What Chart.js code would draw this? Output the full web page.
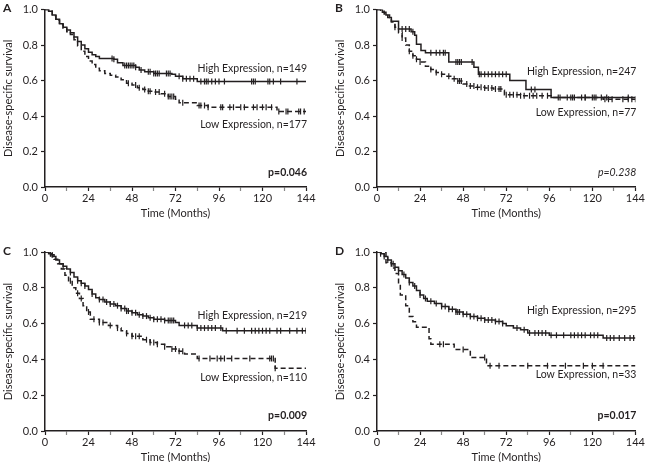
<!DOCTYPE html>
<html>
<head>
<meta charset="utf-8">
<script src="https://cdn.jsdelivr.net/npm/chart.js@4.4.1/dist/chart.umd.min.js"></script>
<style>
  body { margin: 0; background: #fff; }
  #wrap { position: relative; width: 646px; height: 462px; overflow: hidden; }
  .panel { position: absolute; width: 323px; height: 231px; }
</style>
</head>
<body>
<div id="wrap">
  <div class="panel" style="left:0;top:0"><canvas id="cA" width="323" height="231"></canvas></div>
  <div class="panel" style="left:323px;top:0"><canvas id="cB" width="323" height="231"></canvas></div>
  <div class="panel" style="left:0;top:231px"><canvas id="cC" width="323" height="231"></canvas></div>
  <div class="panel" style="left:323px;top:231px"><canvas id="cD" width="323" height="231"></canvas></div>
</div>
<script>
// tick labels
const xTicks = [0, 24, 48, 72, 96, 120, 144]
const yTicks = [0, 0.2, 0.4, 0.6, 0.8, 1.0]

// --- panel A ---
const hiTimeA = [0, 2, 4, 6, 8, 10, 12, 14, 16, 18, 20, 22, 24, 26, 28, 30, 38, 40, 43, 50, 52, 55, 60, 70, 72, 76, 84, 144]
const hiSurvA = [1, 0.99, 0.97, 0.945, 0.92, 0.9, 0.885, 0.87, 0.845, 0.82, 0.8, 0.78, 0.76, 0.745, 0.735, 0.725, 0.72, 0.70, 0.685, 0.675, 0.66, 0.65, 0.64, 0.635, 0.625, 0.61, 0.595, 0.595]
const hiCensA = [37, 38, 44, 45, 46, 47, 48, 49, 50, 53, 57, 58, 60, 61, 62, 63, 67, 68, 69, 74, 76, 78, 80, 82, 86, 88, 89, 90, 92, 94, 96, 99, 114, 115, 116, 123, 124, 126, 130, 139]
const loTimeA = [0, 2, 4, 6, 8, 10, 12, 14, 16, 18, 20, 22, 24, 26, 28, 30, 33, 36, 39, 42, 45, 48, 51, 54, 57, 60, 64, 68, 72, 74, 84, 90, 128, 144]
const loSurvA = [1, 0.99, 0.965, 0.94, 0.915, 0.895, 0.875, 0.86, 0.83, 0.795, 0.765, 0.735, 0.71, 0.69, 0.67, 0.655, 0.64, 0.63, 0.62, 0.605, 0.585, 0.575, 0.56, 0.55, 0.54, 0.535, 0.525, 0.51, 0.495, 0.475, 0.46, 0.45, 0.425, 0.425]
const loCensA = [46, 50, 52, 55, 57, 58, 61, 63, 66, 68, 69, 70, 71, 76, 85, 86, 88, 90, 97, 98, 102, 104, 108, 110, 115, 117, 120, 122, 125, 129, 133, 134, 140, 141, 143]

// --- panel B ---
const hiTimeB = [0, 3, 5, 7, 8, 12, 19, 21, 22, 24.5, 27, 40, 54, 56.5, 74, 83, 97, 144]
const hiSurvB = [1, 0.985, 0.97, 0.955, 0.935, 0.89, 0.875, 0.855, 0.805, 0.77, 0.757, 0.705, 0.675, 0.635, 0.60, 0.55, 0.505, 0.505]
const hiCensB = [14, 16, 18, 20, 30, 33, 35, 37, 38, 44, 45, 46, 47, 53, 57, 58, 60, 62, 64, 66, 68, 70, 72, 86, 88, 101, 109, 116, 121, 128, 140]
const loTimeB = [0, 2, 4, 6, 8, 10, 12, 14, 16, 18, 20, 22, 24, 27, 30, 33, 36, 39, 42, 45, 48, 51, 55, 60, 65, 70, 71, 80, 97, 126, 144]
const loSurvB = [1, 0.99, 0.975, 0.955, 0.93, 0.9, 0.87, 0.84, 0.8, 0.765, 0.74, 0.72, 0.705, 0.68, 0.662, 0.645, 0.635, 0.625, 0.61, 0.597, 0.58, 0.57, 0.562, 0.558, 0.552, 0.545, 0.52, 0.515, 0.505, 0.495, 0.495]
const loCensB = [10, 14, 18, 20, 22, 24, 30, 33, 36, 40, 43, 45, 46, 47, 50, 52, 54, 56, 58, 60, 62, 64, 66, 68, 69, 72, 74, 76, 78, 80, 82, 85, 87, 89, 92, 95, 102, 106, 108, 110, 114, 116, 120, 122, 125, 127, 129, 131, 137, 140, 142, 144]

// --- panel C ---
const hiTimeC = [0, 2, 4, 6, 8, 10, 12, 14, 16, 18, 20, 22, 24, 26, 28, 30, 33, 36, 39, 42, 45, 48, 51, 54, 57, 60, 66, 72, 74, 84, 98, 144]
const hiSurvC = [1, 0.99, 0.975, 0.955, 0.935, 0.92, 0.905, 0.885, 0.86, 0.84, 0.825, 0.81, 0.79, 0.765, 0.745, 0.735, 0.72, 0.71, 0.70, 0.685, 0.67, 0.66, 0.65, 0.642, 0.632, 0.625, 0.618, 0.606, 0.59, 0.575, 0.56, 0.56]
const hiCensC = [3, 10, 14, 18, 20, 22, 26, 30, 32, 34, 36, 38, 40, 42, 44, 45, 46, 48, 50, 52, 54, 56, 58, 60, 62, 64, 66, 68, 69, 70, 71, 77, 79, 81, 84, 86, 88, 90, 92, 94, 97, 100, 106, 110, 114, 116, 118, 120, 122, 124, 128, 130, 135, 139, 142, 144]
const loTimeC = [0, 3, 5, 7, 9, 11, 13, 15, 17, 19, 21, 23, 25, 30, 35, 40, 42, 45, 48, 54, 58, 62, 66, 70, 74, 77, 84, 127, 144]
const loSurvC = [1, 0.985, 0.96, 0.935, 0.905, 0.87, 0.84, 0.80, 0.77, 0.74, 0.70, 0.665, 0.625, 0.606, 0.59, 0.575, 0.56, 0.545, 0.53, 0.51, 0.495, 0.485, 0.47, 0.458, 0.445, 0.43, 0.405, 0.35, 0.35]
const loCensC = [4, 14, 18, 20, 24, 27, 30, 32, 36, 40, 45, 48, 50, 52, 56, 58, 60, 62, 66, 70, 72, 74, 76, 85, 91, 95, 97, 99, 103, 113, 124, 125, 126, 127]

// --- panel D ---
const hiTimeD = [0, 2, 4, 6, 8, 10, 12, 14, 16, 18, 20, 22, 24, 26, 28, 32, 36, 40, 44, 48, 52, 56, 60, 66, 70, 72, 76, 80, 84, 96, 126, 144]
const hiSurvD = [1, 0.99, 0.975, 0.955, 0.935, 0.915, 0.895, 0.875, 0.855, 0.83, 0.81, 0.785, 0.76, 0.74, 0.725, 0.712, 0.695, 0.68, 0.665, 0.652, 0.64, 0.63, 0.62, 0.612, 0.60, 0.588, 0.575, 0.565, 0.548, 0.535, 0.52, 0.52]
const hiCensD = [2, 4, 6, 9, 12, 15, 18, 21, 24, 27, 30, 33, 36, 38, 40, 42, 44, 45, 46, 48, 50, 52, 54, 56, 58, 60, 62, 64, 66, 68, 70, 78, 82, 85, 88, 90, 92, 94, 97, 100, 104, 108, 110, 112, 114, 116, 119, 121, 123, 128, 130, 132, 135, 138, 141, 143]
const loTimeD = [0, 5, 8, 10, 12, 13, 16, 18, 20, 22, 29, 30, 43, 52, 61, 144]
const loSurvD = [1, 0.94, 0.91, 0.88, 0.82, 0.76, 0.70, 0.64, 0.61, 0.58, 0.515, 0.485, 0.455, 0.41, 0.365, 0.365]
const loCensD = [35, 37, 48, 60, 63, 68, 84, 95, 105, 115, 120, 126]

const FONT = 'Lato, "Open Sans", sans-serif'
const INK = '#231f20'

const survAt = (times, surv, t) => {
    let s = surv[0]
    for (let i = 0; i < times.length; i++) {
        if (times[i] <= t) s = surv[i]
    }
    return s
}

const curve = (times, surv, dashed) => ({
    data: times.map((t, i) => ({ x: t, y: surv[i] })),
    stepped: true,
    borderColor: INK,
    borderWidth: 1.5,
    borderDash: dashed ? [5, 3] : [],
    pointRadius: 0,
    fill: false
})

const censors = (times, surv, cens) => ({
    data: cens.map(t => ({ x: t, y: survAt(times, surv, t) })),
    showLine: false,
    pointStyle: 'line',
    rotation: 90,
    pointRadius: 3,
    pointBorderWidth: 1.2,
    pointBorderColor: INK,
    borderColor: INK
})

// text on top of each panel
const notes = {
    id: 'notes',
    afterDraw(chart) {
        const o = chart.options.plugins.notes
        const { ctx, chartArea } = chart
        const y = chart.scales.y
        const right = chartArea.right + 1
        ctx.save()
        ctx.fillStyle = INK
        ctx.textBaseline = 'middle'
        ctx.textAlign = 'left'
        ctx.font = `bold 12px ${FONT}`
        ctx.fillText(o.letter, o.letterX, o.letterY)
        ctx.textAlign = 'right'
        ctx.font = `10.5px ${FONT}`
        ctx.fillText(o.hiLabel, right, y.getPixelForValue(o.hiY))
        ctx.fillText(o.loLabel, right, y.getPixelForValue(o.loY))
        ctx.font = `${o.pStyle} 10.5px ${FONT}`
        ctx.fillText(o.pText, right, y.getPixelForValue(o.pY))
        ctx.restore()
    }
}

const makePanel = (id, p) => {
    const context = document.getElementById(id).getContext('2d')
    return new Chart(context, {
        type: 'line',
        data: {
            datasets: [
                curve(p.hiTime, p.hiSurv, false),
                curve(p.loTime, p.loSurv, true),
                censors(p.hiTime, p.hiSurv, p.hiCens),
                censors(p.loTime, p.loSurv, p.loCens)
            ]
        },
        options: {
            responsive: false,
            animation: false,
            events: [],
            layout: { padding: p.pad },
            plugins: {
                legend: { display: false },
                tooltip: { enabled: false },
                notes: p.notes
            },
            scales: {
                x: {
                    type: 'linear',
                    min: 0,
                    max: 144,
                    afterFit: s => { s.height = p.xH },
                    border: { color: INK, width: 1.5 },
                    grid: {
                        drawOnChartArea: false,
                        tickLength: 4,
                        tickColor: c => (c.tick && xTicks.includes(c.tick.value)) ? INK : '#888',
                        tickWidth: 1.2
                    },
                    ticks: {
                        stepSize: 12,
                        autoSkip: false,
                        maxRotation: 0,
                        padding: 1,
                        color: INK,
                        font: { family: FONT, size: 11 },
                        callback: v => xTicks.includes(v) ? String(v) : ''
                    },
                    title: {
                        display: true,
                        text: 'Time (Months)',
                        color: INK,
                        font: { family: FONT, size: 11 },
                        padding: { top: 0, bottom: -1.6 }
                    }
                },
                y: {
                    min: 0,
                    max: 1,
                    afterFit: s => { s.width = 45 },
                    afterBuildTicks: s => { s.ticks = yTicks.map(v => ({ value: v })) },
                    border: { color: INK, width: 1.5 },
                    grid: { drawOnChartArea: false, tickLength: 4, tickColor: INK, tickWidth: 1.2 },
                    ticks: {
                        padding: 3,
                        color: INK,
                        font: { family: FONT, size: 11 },
                        callback: v => Number(v).toFixed(1)
                    },
                    title: {
                        display: true,
                        text: 'Disease-specific survival',
                        color: INK,
                        font: { family: FONT, size: 11 },
                        padding: { top: 1.4, bottom: 0 }
                    }
                }
            }
        },
        plugins: [notes]
    })
}

makePanel('cA', {
    hiTime: hiTimeA, hiSurv: hiSurvA, hiCens: hiCensA,
    loTime: loTimeA, loSurv: loSurvA, loCens: loCensA,
    pad: { left: 0, right: 17, top: 9, bottom: 13 }, xH: 31,
    notes: { letter: 'A', letterX: 3, letterY: 8, hiLabel: 'High Expression, n=149', hiY: 0.668,
             loLabel: 'Low Expression, n=177', loY: 0.354, pText: 'p=0.046', pStyle: 'bold', pY: 0.079 }
})

makePanel('cB', {
    hiTime: hiTimeB, hiSurv: hiSurvB, hiCens: hiCensB,
    loTime: loTimeB, loSurv: loSurvB, loCens: loCensB,
    pad: { left: 9, right: 8, top: 9, bottom: 13 }, xH: 31,
    notes: { letter: 'B', letterX: 12, letterY: 8, hiLabel: 'High Expression, n=247', hiY: 0.652,
             loLabel: 'Low Expression, n=77', loY: 0.421, pText: 'p=0.238', pStyle: 'italic', pY: 0.079 }
})

makePanel('cC', {
    hiTime: hiTimeC, hiSurv: hiSurvC, hiCens: hiCensC,
    loTime: loTimeC, loSurv: loSurvC, loCens: loCensC,
    pad: { left: 0, right: 17, top: 21, bottom: 0 }, xH: 31,
    notes: { letter: 'C', letterX: 3, letterY: 20, hiLabel: 'High Expression, n=219', hiY: 0.642,
             loLabel: 'Low Expression, n=110', loY: 0.296, pText: 'p=0.009', pStyle: 'bold', pY: 0.084 }
})

makePanel('cD', {
    hiTime: hiTimeD, hiSurv: hiSurvD, hiCens: hiCensD,
    loTime: loTimeD, loSurv: loSurvD, loCens: loCensD,
    pad: { left: 9, right: 8, top: 21, bottom: 0 }, xH: 31,
    notes: { letter: 'D', letterX: 12, letterY: 20, hiLabel: 'High Expression, n=295', hiY: 0.67,
             loLabel: 'Low Expression, n=33', loY: 0.313, pText: 'p=0.017', pStyle: 'bold', pY: 0.084 }
})
</script>
</body>
</html>
